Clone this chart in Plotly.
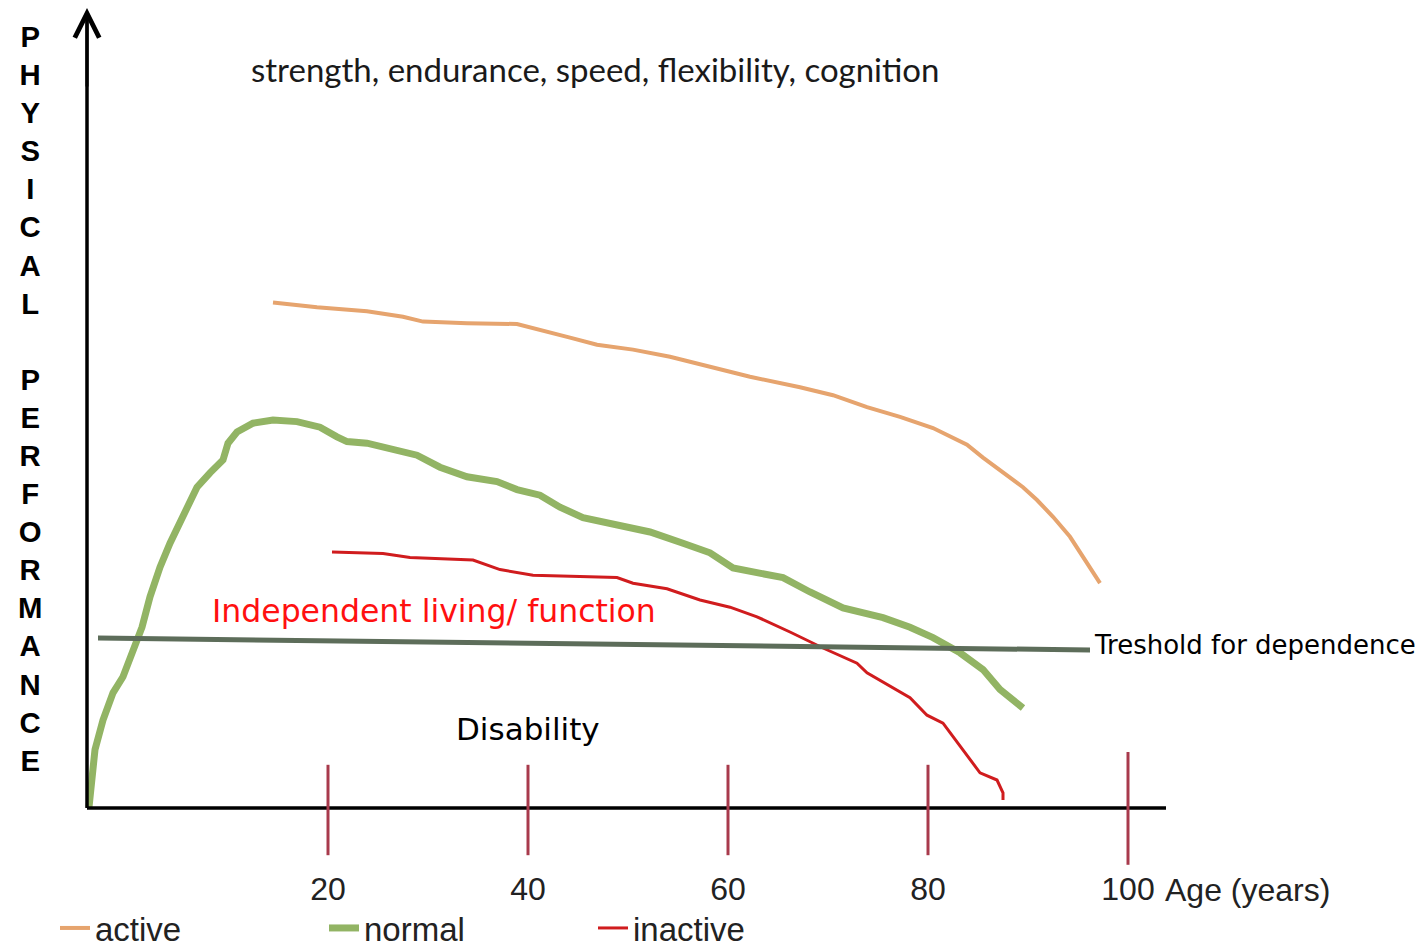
import plotly.graph_objects as go

# ---------------- data (age in years, physical performance in arbitrary units) ----------------
active_age = [14.5, 18.9, 23.9, 27.5, 29.5, 33.9, 38.9, 41.2, 44.2, 46.9, 50.5, 54.2, 57.2,
              62.2, 67.2, 70.5, 73.9, 77.2, 80.5, 83.9, 85.5, 87.5, 89.5, 90.9, 92.5, 94.2,
              95.5, 97.2]
active_perf = [63.2, 62.6, 62.1, 61.4, 60.8, 60.6, 60.5, 59.8, 58.8, 57.9, 57.3, 56.4, 55.5,
               53.9, 52.6, 51.6, 50.1, 48.9, 47.5, 45.4, 43.8, 42.0, 40.1, 38.5, 36.4, 33.9,
               31.4, 28.1]

normal_age = [-3.9, -3.6, -3.3, -2.5, -1.5, -0.5, 0.5, 1.4, 2.2, 3.2, 4.2, 5.5, 6.9, 8.2, 9.5,
              10.0, 10.9, 12.5, 14.5, 16.9, 19.2, 20.9, 21.9, 23.9, 26.5, 28.9, 31.2, 33.9,
              36.9, 38.9, 41.2, 43.2, 45.5, 48.9, 52.2, 55.5, 58.2, 60.5, 65.5, 68.2, 71.5,
              75.5, 78.2, 80.5, 83.2, 85.5, 87.2, 89.5]
normal_perf = [0.1, 3.5, 7.3, 11.0, 14.4, 16.4, 19.4, 22.6, 26.4, 30.1, 33.1, 36.4, 40.1, 41.9,
               43.5, 45.6, 47.0, 48.1, 48.5, 48.3, 47.6, 46.4, 45.8, 45.6, 44.8, 44.1, 42.6,
               41.4, 40.8, 39.8, 39.1, 37.6, 36.3, 35.4, 34.5, 33.1, 31.9, 30.0, 28.8, 27.0,
               25.0, 23.8, 22.6, 21.3, 19.4, 17.3, 14.8, 12.5]

inactive_age = [20.4, 25.5, 28.2, 34.5, 37.2, 40.5, 48.9, 50.5, 53.9, 57.2, 60.2, 62.9, 66.2,
                69.5, 72.9, 73.9, 78.2, 79.9, 81.5, 82.5, 85.2, 86.9, 87.5, 87.5]
inactive_perf = [32.0, 31.8, 31.3, 31.0, 29.8, 29.1, 28.8, 28.1, 27.4, 26.0, 25.1, 23.9, 22.0,
                 20.0, 18.1, 16.9, 13.8, 11.6, 10.6, 8.9, 4.4, 3.5, 1.9, 1.0]

threshold_age = [-3.0, 96.2]
threshold_perf = [21.25, 19.75]

tick_ages = [20, 40, 60, 80, 100]
tick_labels = ["20", "40", "60", "80", "100"]
series_names = ["active", "normal", "inactive"]

# ---------------- figure ----------------
W, H = 1419, 947
MB = 80  # bottom margin (px)
PLOT_H = H - MB
PX_PER_UNIT = 8.0
Y_MIN = -(PLOT_H - 808) / PX_PER_UNIT   # performance 0 sits 808 px from the top
Y_MAX = Y_MIN + PLOT_H / PX_PER_UNIT

fig = go.Figure()

fig.add_trace(go.Scatter(x=active_age, y=active_perf, mode="lines", name=series_names[0],
                         line=dict(color="#E6A46E", width=4)))
fig.add_trace(go.Scatter(x=normal_age, y=normal_perf, mode="lines", name=series_names[1],
                         line=dict(color="#92B464", width=7)))
fig.add_trace(go.Scatter(x=inactive_age, y=inactive_perf, mode="lines", name=series_names[2],
                         line=dict(color="#D01C1E", width=3)))
fig.add_trace(go.Scatter(x=threshold_age, y=threshold_perf, mode="lines", showlegend=False,
                         line=dict(color="#5D6D5A", width=5)))

x0_axis, x1_axis = -4.1, 103.8
shapes = [
    dict(type="line", xref="x", yref="y", x0=x0_axis, x1=x1_axis, y0=0, y1=0,
         line=dict(color="black", width=3.5)),
    dict(type="line", xref="x", yref="y", x0=x0_axis, x1=x0_axis, y0=0, y1=99,
         line=dict(color="black", width=3.5)),
]
for a in tick_ages:
    half_up, half_dn = (7.0, 7.1) if a == 100 else (5.4, 5.9)
    shapes.append(dict(type="line", xref="x", yref="y", x0=a, x1=a, y0=-half_dn, y1=half_up,
                       line=dict(color="#A83A4C", width=3)))

ytitle = "<br>".join(list("PHYSICAL") + ["\u00a0"] + list("PERFORMANCE"))

annotations = [
    dict(x=x0_axis, y=100, ax=x0_axis, ay=90, xref="x", yref="y", axref="x", ayref="y",
         text="", showarrow=True, arrowhead=5, arrowsize=1.6, arrowwidth=3, arrowcolor="black"),
    dict(x=-9.8, y=51.25, xref="x", yref="y", text=ytitle, showarrow=False,
         font=dict(family="Liberation Sans, Arial", size=29.3, color="black", weight="bold"),
         xanchor="center", yanchor="middle"),
    dict(x=12.1, y=92.4, xref="x", yref="y", text="strength, endurance, speed, flexibility, cognition",
         showarrow=False, xanchor="left", yanchor="middle",
         font=dict(family="Lato, Open Sans", size=33, color="#1a1a1a")),
    dict(x=8.2, y=24.6, xref="x", yref="y", text="Independent living/ function", showarrow=False,
         xanchor="left", yanchor="middle",
         font=dict(family="DejaVu Sans", size=31.5, color="#FF1010")),
    dict(x=96.4, y=20.4, xref="x", yref="y", text="Treshold for dependence", showarrow=False,
         xanchor="left", yanchor="middle",
         font=dict(family="DejaVu Sans", size=26, color="black")),
    dict(x=32.6, y=9.9, xref="x", yref="y", text="Disability", showarrow=False,
         xanchor="left", yanchor="middle",
         font=dict(family="DejaVu Sans", size=31, color="black")),
    dict(x=103.5, y=-(890 - PLOT_H) / PLOT_H, xref="x", yref="paper", text="Age (years)",
         showarrow=False, xanchor="left", yanchor="middle",
         font=dict(family="Liberation Sans, Arial", size=32, color="#222222")),
]

fig.update_layout(
    width=W, height=H,
    margin=dict(l=0, r=0, t=0, b=MB, autoexpand=False),
    paper_bgcolor="white", plot_bgcolor="white",
    shapes=shapes, annotations=annotations,
    xaxis=dict(range=[-12.8, 129.1], showgrid=False, zeroline=False, showline=False,
               tickmode="array", tickvals=tick_ages, ticktext=tick_labels, ticks="",
               tickfont=dict(family="Liberation Sans, Arial", size=32, color="#222222"),
               fixedrange=True),
    yaxis=dict(range=[Y_MIN, Y_MAX], visible=False, fixedrange=True),
    legend=dict(orientation="h", xref="paper", yref="paper", x=55 / W, y=-(928 - PLOT_H) / PLOT_H,
                xanchor="left", yanchor="middle", entrywidth=224, entrywidthmode="pixels",
                font=dict(family="Liberation Sans, Arial", size=33, color="#222222"),
                bgcolor="rgba(0,0,0,0)"),
    showlegend=True,
)

fig.write_html("out.html", config={"displayModeBar": False},
               post_script="document.body.style.margin='0';")
